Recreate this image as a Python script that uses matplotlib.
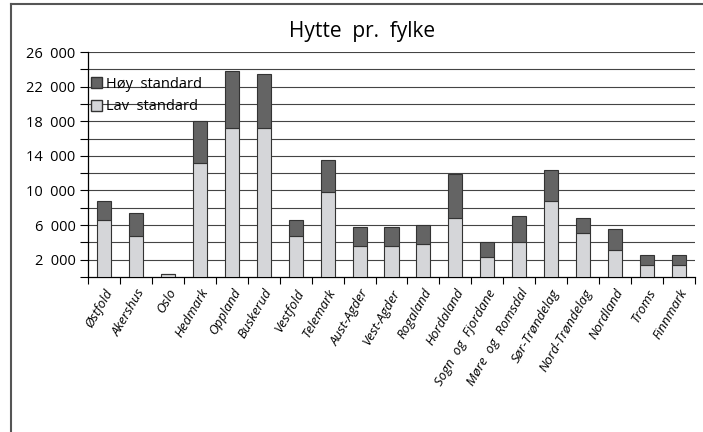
import matplotlib.pyplot as plt
from matplotlib.lines import Line2D
from matplotlib.patches import Patch
import numpy as np

plt.rcParams['font.family'] = ['Open Sans', 'DejaVu Sans']

# Data
fylker = ['Østfold', 'Akershus', 'Oslo', 'Hedmark', 'Oppland', 'Buskerud',
          'Vestfold', 'Telemark', 'Aust-Agder', 'Vest-Agder', 'Rogaland',
          'Hordaland', 'Sogn  og  Fjordane', 'Møre  og  Romsdal', 'Sør-Trøndelag',
          'Nord-Trøndelag', 'Nordland', 'Troms', 'Finnmark']
lav = [6550, 4780, 300, 13200, 17250, 17250, 4780, 9780, 3550, 3550, 3800,
       6780, 2300, 4080, 8780, 5080, 3080, 1350, 1350]
hoy = [2200, 2580, 0, 4800, 6500, 6250, 1770, 3700, 2270, 2270, 2250,
       5080, 1780, 2930, 3550, 1700, 2500, 1190, 1190]
yticks_lab = [2000, 6000, 10000, 14000, 18000, 22000, 26000]

fig = plt.figure(figsize=(7.03, 4.32), dpi=100)
ax = fig.add_axes([88 / 703, 1 - 277 / 432, 607 / 703, 225 / 432])

x = np.arange(len(fylker))
ax.bar(x, lav, width=0.44, color='#d5d6d9', edgecolor='#333333', linewidth=0.8,
       label='Lav standard', zorder=3)
ax.bar(x, hoy, bottom=lav, width=0.44, color='#646464', edgecolor='#333333',
       linewidth=0.8, label='Høy standard', zorder=3)

ax.set_xlim(-0.5, len(fylker) - 0.5)
ax.set_ylim(0, 26000)

# gridlines every 2000
for g in range(2000, 26001, 2000):
    ax.axhline(g, color='#444444', linewidth=0.8, zorder=1)

ax.set_yticks(range(0, 26001, 2000))
ax.set_yticklabels(['' if v not in yticks_lab else f'{v:,}'.replace(',', '\u2002')
                    for v in range(0, 26001, 2000)], fontsize=10.5)
ax.tick_params(axis='y', length=6, width=0.8, pad=3)

ax.set_xticks(x, minor=False)
ax.set_xticklabels(fylker, rotation=60, ha='right', rotation_mode='anchor',
                   fontsize=9.5, style='italic')
ax.tick_params(axis='x', length=0, pad=7)
ax.set_xticks(np.arange(-0.5, len(fylker)), minor=True)
ax.tick_params(axis='x', which='minor', length=5, width=0.8)

for s in ['top', 'right']:
    ax.spines[s].set_visible(False)
ax.spines['left'].set_linewidth(0.9)
ax.spines['bottom'].set_linewidth(0.9)

handles = [Patch(facecolor='#646464', edgecolor='#333333', label='Høy  standard'),
           Patch(facecolor='#d5d6d9', edgecolor='#333333', label='Lav  standard')]
ax.legend(handles=handles, loc='upper left', bbox_to_anchor=(-0.005, 0.915),
          frameon=False, fontsize=10.5, handlelength=0.75, handleheight=0.8,
          handletextpad=0.3, labelspacing=0.5, borderaxespad=0)

fig.text(362 / 703, 1 - 32 / 432, 'Hytte  pr.  fylke', fontsize=15,
         ha='center', va='center')

# frame lines of the original picture
fig.add_artist(Line2D([11 / 703, 11 / 703], [0, 1 - 4 / 432], color='#555555', lw=1.5))
fig.add_artist(Line2D([11 / 703, 1], [1 - 4 / 432, 1 - 4 / 432], color='#555555', lw=1.5))

fig.savefig('out.png', dpi=100)
